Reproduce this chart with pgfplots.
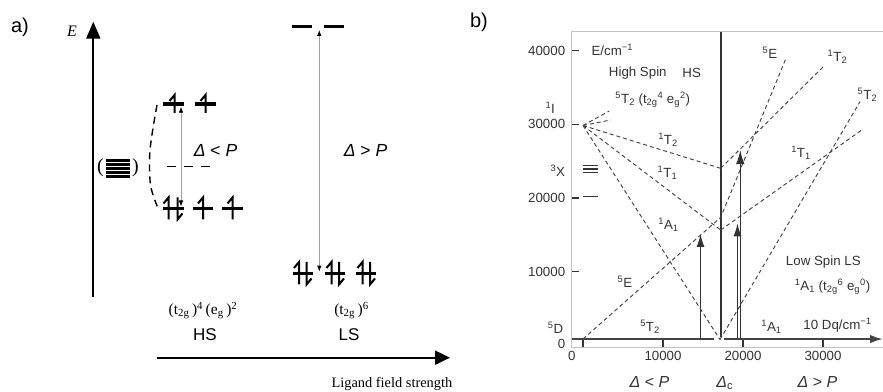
\documentclass[border=0pt]{standalone}
\usepackage{fontspec}
\setmainfont{Liberation Serif}
\newfontfamily\arial{Liberation Sans}
\usepackage{pgfplots}
\pgfplotsset{compat=1.18}
\usetikzlibrary{arrows.meta}
\newcommand\fs[1]{\fontsize{#1}{#1}\selectfont}
\definecolor{dk}{HTML}{333333}
\definecolor{ln}{HTML}{444444}
\definecolor{fr}{HTML}{C4C4C4}
\definecolor{ga}{HTML}{A0A0A0}
\tikzset{bl/.style={font=\arial\fs{13.3},text=dk}}
\begin{document}
\begin{tikzpicture}[x=1pt,y=1pt]
\useasboundingbox (0pt,0pt) rectangle (883pt,391pt);
% ---------------- panel a ----------------
\begin{axis}[at={(0pt,0pt)},anchor=south west,scale only axis,width=460pt,height=391pt,
  xmin=0,xmax=460,ymin=0,ymax=391,hide axis,clip=false]
% axes
\addplot[black,line width=2.2pt,-{Triangle[length=17pt,width=14pt]}] coordinates {(93.3,94.3)(93.3,369.3)};
\addplot[black,line width=2pt,-{Triangle[length=15pt,width=14pt]}] coordinates {(156.7,33.3)(450,33.3)};
% degenerate d levels
\addplot[black,line width=3pt] coordinates {(106,230.2)(130,230.2)};
\addplot[black,line width=3pt] coordinates {(106,226.35)(130,226.35)};
\addplot[black,line width=3pt] coordinates {(106,222.5)(130,222.5)};
\addplot[black,line width=3pt] coordinates {(106,218.65)(130,218.65)};
\addplot[black,line width=3pt] coordinates {(106,214.8)(130,214.8)};
% dashed splitting bracket
\addplot[black,line width=1.4pt,dash pattern=on 7pt off 5pt,smooth] coordinates {(157,286)(153,263)(150,241)(149.5,223)(150.5,206)(154,193)(158,183)};
\addplot[black,line width=1.5pt,dash pattern=on 9pt off 8pt] coordinates {(166.7,224.3)(210,224.3)};
% HS levels
\addplot[black,line width=3.2pt] coordinates {(162.5,287)(183.5,287)};
\addplot[black,line width=3.2pt] coordinates {(194.5,287)(215.5,287)};
\addplot[black,line width=3.2pt] coordinates {(163,182.5)(184,182.5)};
\addplot[black,line width=3.2pt] coordinates {(192.5,182.5)(213,182.5)};
\addplot[black,line width=3.2pt] coordinates {(222,182.5)(243,182.5)};
% HS electrons
\addplot[black,line width=2pt] coordinates {(169.5,290)(174.5,296)(174.5,278)};
\addplot[black,line width=2pt] coordinates {(200.5,290)(205.5,296)(205.5,278)};
\addplot[black,line width=2pt] coordinates {(163.5,187.5)(168.5,193.5)(168.5,171.5)};
\addplot[black,line width=2pt] coordinates {(177.5,193.5)(177.5,171.5)(182.5,177.5)};
\addplot[black,line width=2pt] coordinates {(198,187.5)(203,193.5)(203,171.5)};
\addplot[black,line width=2pt] coordinates {(227.5,187.5)(232.5,193.5)(232.5,171.5)};
% LS levels
\addplot[black,line width=3.2pt] coordinates {(291.7,364.3)(311.7,364.3)};
\addplot[black,line width=3.2pt] coordinates {(324,364.3)(344,364.3)};
\addplot[black,line width=3.2pt] coordinates {(292.7,117.7)(312.7,117.7)};
\addplot[black,line width=3.2pt] coordinates {(325,117.7)(345,117.7)};
\addplot[black,line width=3.2pt] coordinates {(356,117.7)(376,117.7)};
% LS electrons
\addplot[black,line width=2pt] coordinates {(294,123)(299,129)(299,106.5)};
\addplot[black,line width=2pt] coordinates {(306.5,129)(306.5,106.5)(311.5,112.5)};
\addplot[black,line width=2pt] coordinates {(326.5,123)(331.5,129)(331.5,106.5)};
\addplot[black,line width=2pt] coordinates {(339,129)(339,106.5)(344,112.5)};
\addplot[black,line width=2pt] coordinates {(357.5,123)(362.5,129)(362.5,106.5)};
\addplot[black,line width=2pt] coordinates {(370,129)(370,106.5)(375,112.5)};
% thin gray arrows
\addplot[ga,line width=0.8pt,{Latex[length=6pt,width=4.5pt,fill=black,color=black]}-{Latex[length=6pt,width=4.5pt,fill=black,color=black]}] coordinates {(181,184.5)(181,284.3)};
\addplot[ga,line width=0.8pt,{Latex[length=6pt,width=4.5pt,fill=black,color=black]}-{Latex[length=6pt,width=4.5pt,fill=black,color=black]}] coordinates {(319.3,119.3)(319.3,361)};
% texts
\node[font=\arial\fs{20}] at (axis cs:20,364) {a)};
\node[font=\itshape\fs{16}] at (axis cs:72,359.3) {E};
\node[font=\fs{20}] at (axis cs:100.5,223) {(};
\node[font=\fs{20}] at (axis cs:135.5,223) {)};
\node[font=\arial\fs{17.5}] at (axis cs:215.5,241) {{\itshape Δ} < {\itshape P}};
\node[font=\arial\fs{17.5}] at (axis cs:365.5,241) {{\itshape Δ} > {\itshape P}};
\node[font=\fs{15.5},anchor=base] at (axis cs:203,76.5) {(t\textsubscript{2g}\,)\textsuperscript{4}\,(e\textsubscript{g}\,)\textsuperscript{2}};
\node[font=\fs{15.5},anchor=base] at (axis cs:351.5,76.5) {(t\textsubscript{2g}\,)\textsuperscript{6}};
\node[font=\arial\fs{17}] at (axis cs:205,56) {HS};
\node[font=\arial\fs{17}] at (axis cs:349,56) {LS};
\node[font=\fs{14.4},anchor=base west] at (axis cs:328,3.5) {Ligand field strength};
\end{axis}
% ---------------- panel b ----------------
\begin{axis}[at={(571.7pt,43.7pt)},anchor=south west,scale only axis,width=318.5pt,height=315.6pt,
  xmin=-1412,xmax=38400,ymin=-244,ymax=42573,clip=false,
  scaled ticks=false,
  axis line style={fr,line width=1.3pt},
  tick style={dk,line width=1.2pt},tick align=inside,major tick length=7.5pt,tick pos=left,
  xtick={0,10000,20000,30000},xticklabels={,10000,20000,30000},
  ytick={10000,20000,30000,40000},yticklabels={10000,20000,30000,40000},
  extra x ticks={-1412},extra x tick labels={0},
  extra y ticks={200},extra y tick labels={0},
  extra tick style={tick style={draw=none}},
  tick label style={font=\arial\fs{13.3},text=dk},
  yticklabel style={xshift=-3pt}]
% ground line (broken at Delta_c)
\addplot[ln,line width=2pt] coordinates {(-1412,880)(16375,880)};
\addplot[ln,line width=2pt,-{Latex[length=13pt,width=8.5pt]}] coordinates {(17625,880)(37500,880)};
% Delta_c line
\addplot[dk,line width=1.8pt] coordinates {(17210,1100)(17210,42573)};
% levels of free ion
\addplot[dk,line width=1.2pt] coordinates {(40,24420)(1910,24420)};
\addplot[dk,line width=1.2pt] coordinates {(40,23945)(1910,23945)};
\addplot[dk,line width=1.2pt] coordinates {(40,23470)(1910,23470)};
\addplot[dk,line width=1.2pt] coordinates {(40,20200)(1910,20200)};
% dashed term lines
\addplot[ln,line width=0.95pt,dash pattern=on 4pt off 3pt] coordinates {(0,29850)(3290,31815)};
\addplot[ln,line width=0.95pt,dash pattern=on 4pt off 3pt] coordinates {(0,29850)(3460,30590)};
\addplot[ln,line width=0.95pt,dash pattern=on 4pt off 3pt] coordinates {(0,29850)(17210,24040)};
\addplot[ln,line width=0.95pt,dash pattern=on 4pt off 3pt] coordinates {(0,29850)(17210,15670)};
\addplot[ln,line width=0.95pt,dash pattern=on 4pt off 3pt] coordinates {(0,29850)(17125,800)};
\addplot[ln,line width=0.95pt,dash pattern=on 4pt off 3pt] coordinates {(0,880)(17210,17390)(25375,38965)};
\addplot[ln,line width=0.95pt,dash pattern=on 4pt off 3pt] coordinates {(17210,24040)(30250,38055)};
\addplot[ln,line width=0.95pt,dash pattern=on 4pt off 3pt] coordinates {(17210,15670)(34840,29235)};
\addplot[ln,line width=0.95pt,dash pattern=on 4pt off 3pt] coordinates {(17125,800)(34625,33075)};
% transitions
\addplot[dk,line width=1.3pt,-{Latex[length=13pt,width=8pt]}] coordinates {(14690,880)(14690,15130)};
\addplot[dk,line width=1.3pt,-{Latex[length=13pt,width=8pt]}] coordinates {(19310,880)(19310,16580)};
\addplot[dk,line width=1.3pt,-{Latex[length=14pt,width=8.5pt]}] coordinates {(19660,880)(19660,26520)};
% labels
\node[font=\arial\fs{20}] at (axis cs:-13000,43890) {b)};
\node[bl,anchor=west] at (axis cs:625,40090) {E/cm\textsuperscript{−1}};
\node[bl] at (axis cs:6850,36970) {High Spin};
\node[bl] at (axis cs:13590,36970) {HS};
\node[bl] at (axis cs:8725,33310) {\textsuperscript{5}T\textsubscript{2} (t\textsubscript{2g}\textsuperscript{4} e\textsubscript{g}\textsuperscript{2})};
\node[bl] at (axis cs:-4100,32300) {\textsuperscript{1}I};
\node[bl] at (axis cs:-3150,23715) {\textsuperscript{3}X};
\node[bl] at (axis cs:10625,27880) {\textsuperscript{1}T\textsubscript{2}};
\node[bl] at (axis cs:10560,23400) {\textsuperscript{1}T\textsubscript{1}};
\node[bl] at (axis cs:10690,16350) {\textsuperscript{1}A\textsubscript{1}};
\node[bl] at (axis cs:5250,8655) {\textsuperscript{5}E};
\node[bl] at (axis cs:8375,2550) {\textsuperscript{5}T\textsubscript{2}};
\node[bl] at (axis cs:-3440,2375) {\textsuperscript{5}D};
\node[bl] at (axis cs:23375,39680) {\textsuperscript{5}E};
\node[bl] at (axis cs:31810,39180) {\textsuperscript{1}T\textsubscript{2}};
\node[bl] at (axis cs:35560,33985) {\textsuperscript{5}T\textsubscript{2}};
\node[bl] at (axis cs:27250,26115) {\textsuperscript{1}T\textsubscript{1}};
\node[bl] at (axis cs:30040,11370) {Low Spin LS};
\node[bl] at (axis cs:31190,7980) {\textsuperscript{1}A\textsubscript{1} (t\textsubscript{2g}\textsuperscript{6} e\textsubscript{g}\textsuperscript{0})};
\node[bl] at (axis cs:23560,2550) {\textsuperscript{1}A\textsubscript{1}};
\node[bl] at (axis cs:31810,2780) {10 Dq/cm\textsuperscript{−1}};
\node[font=\arial\fs{16},text=dk] at (axis cs:8310,-4910) {{\itshape Δ} < {\itshape P}};
\node[font=\arial\fs{16},text=dk] at (axis cs:17725,-5090) {{\itshape Δ}\textsubscript{c}};
\node[font=\arial\fs{16},text=dk] at (axis cs:29310,-4910) {{\itshape Δ} > {\itshape P}};
\end{axis}
\end{tikzpicture}
\end{document}
